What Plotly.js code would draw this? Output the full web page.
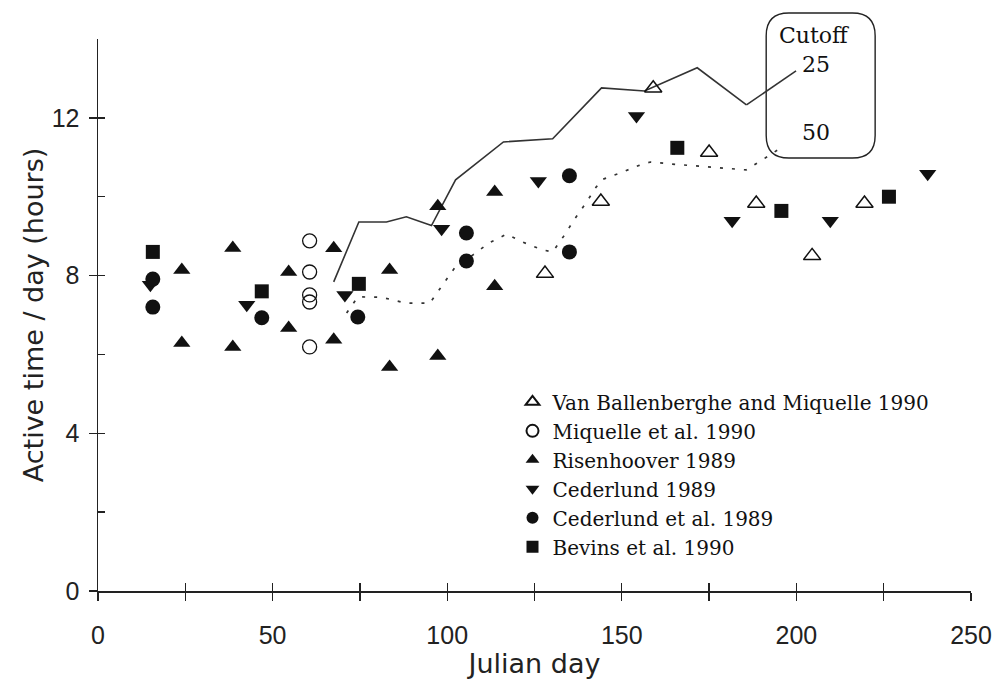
<!DOCTYPE html>
<html>
<head>
<meta charset="utf-8">
<script src="https://cdn.plot.ly/plotly-3.0.1.min.js"></script>
<style>
  html, body { margin: 0; padding: 0; background: #fff; }
  #chart { width: 992px; height: 681px; }
</style>
</head>
<body>
<div id="chart"></div>
<script>
// ---- Data ----
// Van Ballenberghe and Miquelle 1990 (open triangles)
const vanbX = [128, 144, 159, 175, 188.5, 204.5, 219.5];
const vanbY = [8.05, 9.88, 12.75, 11.12, 9.83, 8.5, 9.83];
// Miquelle et al. 1990 (open circles)
const miqX = [60.6, 60.6, 60.6, 60.6, 60.6];
const miqY = [8.88, 8.09, 7.51, 7.33, 6.19];
// Risenhoover 1989 (filled triangles up)
const risX = [24, 24, 38.6, 38.6, 54.6, 54.6, 67.5, 67.5, 83.5, 83.5, 97.3, 97.3, 113.6, 113.6];
const risY = [8.14, 6.29, 8.7, 6.19, 8.09, 6.67, 8.69, 6.37, 8.14, 5.68, 9.76, 5.96, 10.12, 7.73];
// Cederlund 1989 (filled triangles down)
const cedX = [15, 42.6, 70.7, 98.4, 126.1, 154.2, 181.6, 209.7, 237.6];
const cedY = [7.77, 7.26, 7.51, 9.19, 10.4, 12.05, 9.39, 9.39, 10.58];
// Cederlund et al. 1989 (filled circles)
const cedalX = [15.7, 15.7, 46.9, 74.4, 105.5, 105.5, 135, 135];
const cedalY = [7.91, 7.2, 6.93, 6.95, 9.08, 8.37, 10.53, 8.6];
// Bevins et al. 1990 (filled squares)
const bevX = [15.7, 46.9, 74.7, 165.9, 195.7, 226.5];
const bevY = [8.6, 7.6, 7.79, 11.24, 9.64, 10.0];
// Cutoff 25 (solid line)
const c25X = [67.5, 74.7, 82.6, 88.3, 95.5, 102.4, 116.1, 130.2, 144.2, 156.5, 171.6, 185.7];
const c25Y = [7.84, 9.36, 9.36, 9.49, 9.27, 10.43, 11.39, 11.47, 12.76, 12.68, 13.27, 12.33];
// Cutoff 50 (dotted line)
const c50X = [71.2, 74.4, 81.2, 88.3, 95.0, 98.7, 102.1, 107.3, 112, 117, 121.6, 127.3, 130.2, 133.6, 136.4, 139.7, 142.7, 144.5, 149.5, 154.8, 158.2, 164.2, 171.3, 177.9, 185.6, 191.4, 195.9];
const c50Y = [7.05, 7.46, 7.45, 7.3, 7.3, 7.76, 8.19, 8.52, 8.83, 9.05, 8.85, 8.65, 8.6, 9.03, 9.42, 9.84, 10.25, 10.44, 10.6, 10.79, 10.88, 10.83, 10.78, 10.73, 10.68, 11.0, 11.26];
// Leader end for the "25" label
const leaderEnd = [199.9, 13.19];

const xTicks = [0, 50, 100, 150, 200, 250];
const yTicks = [0, 4, 8, 12];

// ---- Styling ----
const ink = '#111';
const sans = 'DejaVu Sans, Liberation Sans, Arial, sans-serif';
const tickSans = 'Liberation Sans, Arial, sans-serif';
const serif = 'DejaVu Serif, Liberation Serif, Times New Roman, serif';

const traces = [
  { x: c25X, y: c25Y, mode: 'lines', line: { color: '#333', width: 1.6 }, showlegend: false, hoverinfo: 'skip' },
  { x: c50X, y: c50Y, mode: 'lines', line: { color: '#333', width: 1.7, dash: '3px,9px' }, showlegend: false, hoverinfo: 'skip' },
  { x: vanbX, y: vanbY, mode: 'markers', name: 'Van Ballenberghe and Miquelle 1990',
    marker: { symbol: 'triangle-up-open', size: 15, color: ink, line: { width: 1.5 } } },
  { x: miqX, y: miqY, mode: 'markers', name: 'Miquelle et al. 1990',
    marker: { symbol: 'circle-open', size: 14, color: ink, line: { width: 1.3 } } },
  { x: risX, y: risY, mode: 'markers', name: 'Risenhoover 1989',
    marker: { symbol: 'triangle-up', size: 15, color: ink } },
  { x: cedX, y: cedY, mode: 'markers', name: 'Cederlund 1989',
    marker: { symbol: 'triangle-down', size: 15, color: ink } },
  { x: cedalX, y: cedalY, mode: 'markers', name: 'Cederlund et al. 1989',
    marker: { symbol: 'circle', size: 15, color: ink } },
  { x: bevX, y: bevY, mode: 'markers', name: 'Bevins et al. 1990',
    marker: { symbol: 'square', size: 14, color: ink } },
  { x: [], y: [], xaxis: 'x2', yaxis: 'y2', showlegend: false, hoverinfo: 'skip' }
];

// Rounded callout box (paper coordinates)
const bx0 = 0.7654, bx1 = 0.8902, by0 = 0.7844, by1 = 1.0471, rx = 0.026, ry = 0.041;
const boxPath = `M ${bx0+rx},${by1} L ${bx1-rx},${by1} Q ${bx1},${by1} ${bx1},${by1-ry} ` +
  `L ${bx1},${by0+ry} Q ${bx1},${by0} ${bx1-rx},${by0} L ${bx0+rx},${by0} ` +
  `Q ${bx0},${by0} ${bx0},${by0+ry} L ${bx0},${by1-ry} Q ${bx0},${by1} ${bx0+rx},${by1} Z`;

const axisCommon = {
  showgrid: false, zeroline: false, showline: true, linecolor: '#222', linewidth: 1.5,
  tickcolor: '#222', tickwidth: 1.3, tickfont: { family: tickSans, size: 25, color: '#222' },
  ticklabeloverflow: 'allow'
};

const boxFont = { family: serif, size: 22, color: ink };

const layout = {
  width: 992, height: 681,
  margin: { l: 98, r: 21, t: 39, b: 90 },
  paper_bgcolor: '#fff', plot_bgcolor: '#fff',
  showlegend: true,
  legend: {
    x: 0.4748, y: 0.378, xanchor: 'left', yanchor: 'top',
    bgcolor: 'rgba(0,0,0,0)', itemsizing: 'constant',
    font: { family: serif, size: 20, color: ink }
  },
  xaxis: Object.assign({}, axisCommon, {
    range: [0, 250], tickmode: 'array', tickvals: xTicks, ticktext: xTicks.map(String),
    ticks: 'outside', ticklen: 8, ticklabelstandoff: 13,
    minor: { dtick: 25, tick0: 0, ticks: 'outside', ticklen: 8, tickcolor: '#222', tickwidth: 1.3 },
    title: { text: 'Julian day', font: { family: sans, size: 27, color: '#222' }, standoff: 6 }
  }),
  yaxis: Object.assign({}, axisCommon, {
    range: [0, 14], tickmode: 'array', tickvals: yTicks, ticktext: yTicks.map(String),
    ticks: 'outside', ticklen: 8, ticklabelstandoff: 4,
    title: { text: 'Active time / day (hours)', font: { family: sans, size: 27, color: '#222' }, standoff: 0 }
  }),
  xaxis2: {
    overlaying: 'x', anchor: 'y2', range: [0, 250], dtick: 25, tick0: 0,
    ticks: 'inside', ticklen: 8, tickcolor: '#222', tickwidth: 1.3,
    showticklabels: false, showgrid: false, zeroline: false, showline: false
  },
  yaxis2: {
    overlaying: 'y', anchor: 'x2', range: [0, 14], dtick: 2, tick0: 0,
    ticks: 'inside', ticklen: 7, tickcolor: '#222', tickwidth: 1.3,
    showticklabels: false, showgrid: false, zeroline: false, showline: false
  },
  shapes: [
    { type: 'path', xref: 'paper', yref: 'paper', path: boxPath, line: { color: '#222', width: 1.4 }, fillcolor: 'rgba(0,0,0,0)' },
    { type: 'line', xref: 'x', yref: 'y', x0: c25X[c25X.length - 1], y0: c25Y[c25Y.length - 1],
      x1: leaderEnd[0], y1: leaderEnd[1], line: { color: '#333', width: 1.6 } }
  ],
  annotations: [
    { xref: 'paper', yref: 'paper', x: 0.8204, y: 1.0072, xanchor: 'center', yanchor: 'middle',
      text: 'Cutoff', showarrow: false, font: boxFont },
    { xref: 'paper', yref: 'paper', x: 0.8227, y: 0.9529, xanchor: 'center', yanchor: 'middle',
      text: '25', showarrow: false, font: boxFont },
    { xref: 'paper', yref: 'paper', x: 0.8227, y: 0.8315, xanchor: 'center', yanchor: 'middle',
      text: '50', showarrow: false, font: boxFont }
  ]
};

Plotly.newPlot('chart', traces, layout, { displayModeBar: false, staticPlot: true });
</script>
</body>
</html>
